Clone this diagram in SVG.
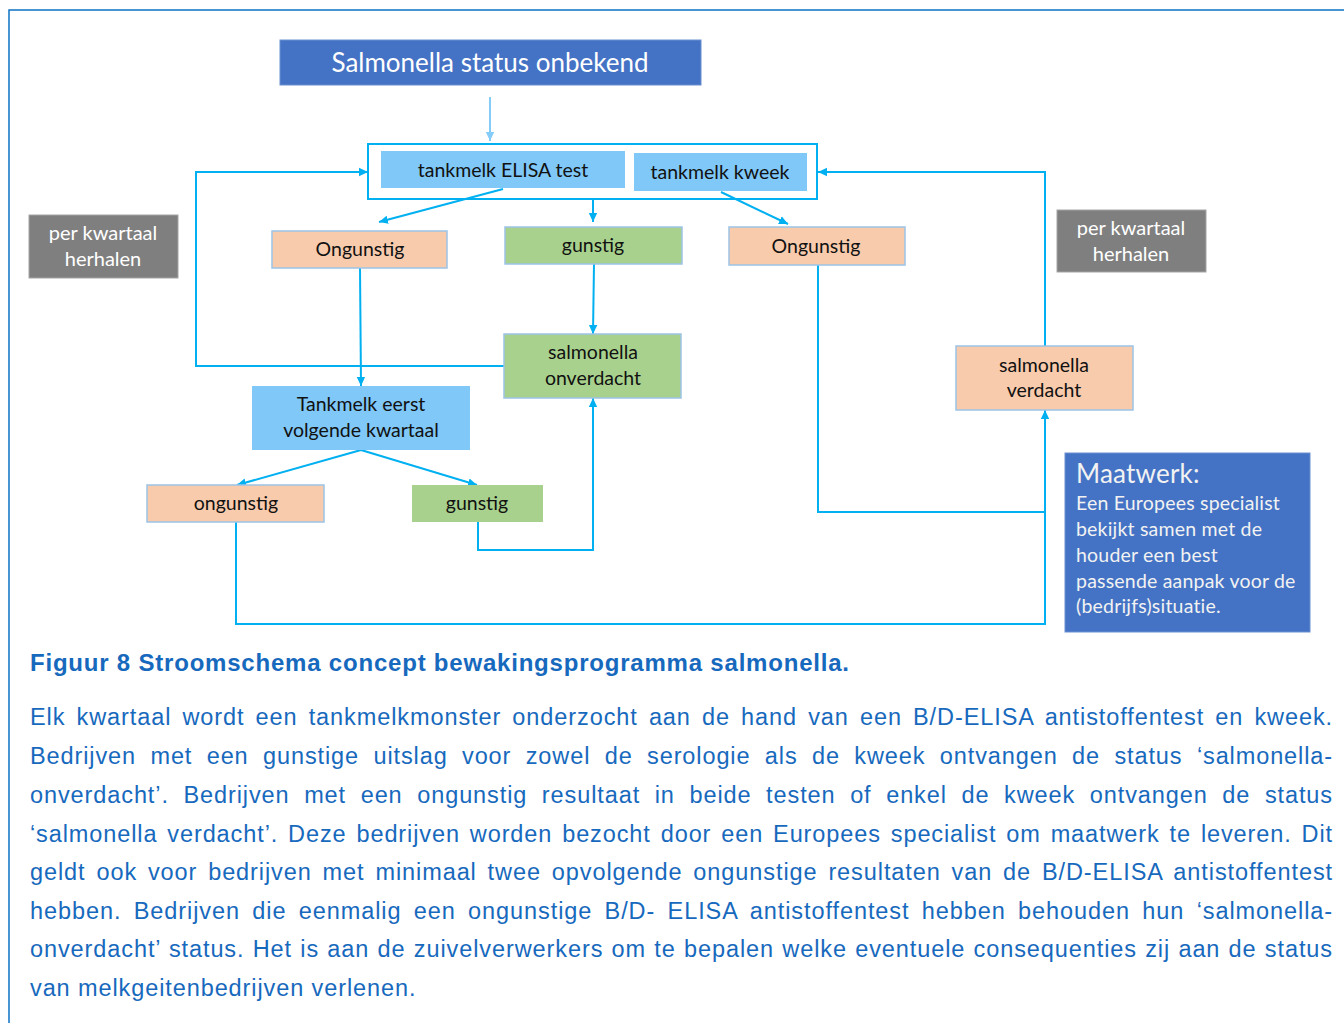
<svg xmlns="http://www.w3.org/2000/svg" width="1344" height="1023" viewBox="0 0 1344 1023">
<style>
.frame{fill:none;stroke:#0E72C4;stroke-width:1.5}
.con{fill:none;stroke:#00B0F0;stroke-width:2}
.lb{fill:#7FC8F8}
.pe{fill:#F8CBAD;stroke:#9DC3E6;stroke-width:1.5}
.gr{fill:#A9D18E;stroke:#9DC3E6;stroke-width:1.5}
.gy{fill:#7F7F7F;stroke:#A6A6A6;stroke-width:1}
.dk{fill:#4472C4;stroke:#6A8FD0;stroke-width:1}
.t{font-family:Lato,"Open Sans",sans-serif;font-size:19.5px;fill:#111;text-anchor:middle}
.tw{font-family:Lato,"Open Sans",sans-serif;font-size:20px;fill:#fff;text-anchor:middle}
.mw{font-family:Lato,"Open Sans",sans-serif;font-size:19.5px;fill:#F2F2F2;letter-spacing:0.2px}
.cap{font-family:"Liberation Sans",Arial,sans-serif;font-size:24px;font-weight:bold;fill:#1769BD}
.p{font-family:"Liberation Sans",Arial,sans-serif;font-size:23.5px;fill:#1769BD;letter-spacing:0.9px}
</style>
<defs>
<marker id="ah" markerUnits="userSpaceOnUse" markerWidth="10" markerHeight="10" refX="9" refY="5" orient="auto">
<path d="M0,0.8 L9,5 L0,9.2 Z" fill="#00B0F0"/>
</marker>
<marker id="ahl" markerUnits="userSpaceOnUse" markerWidth="10" markerHeight="10" refX="9" refY="5" orient="auto">
<path d="M0,0.8 L9,5 L0,9.2 Z" fill="#86CCF9"/>
</marker>
</defs>
<path class="frame" d="M9,1023 V10 H1344"/>

<g id="tests">
<rect x="368" y="144" width="449" height="55" fill="none" stroke="#00B0F0" stroke-width="2"/>
</g>

<g id="connectors">
<line x1="490" y1="97" x2="490" y2="141" stroke="#86CCF9" stroke-width="2" marker-end="url(#ahl)"/>
<polyline class="con" points="504,366 196,366 196,172 368,172" marker-end="url(#ah)"/>
<line class="con" x1="503" y1="189" x2="379" y2="222" marker-end="url(#ah)"/>
<line class="con" x1="593" y1="199" x2="593" y2="222" marker-end="url(#ah)"/>
<line class="con" x1="721" y1="192" x2="788" y2="224" marker-end="url(#ah)"/>
<line class="con" x1="594" y1="264" x2="593" y2="334" marker-end="url(#ah)"/>
<line class="con" x1="360" y1="268" x2="361" y2="386" marker-end="url(#ah)"/>
<line class="con" x1="361" y1="450" x2="237" y2="485" marker-end="url(#ah)"/>
<line class="con" x1="361" y1="450" x2="477" y2="485" marker-end="url(#ah)"/>
<polyline class="con" points="478,522 478,550 593,550 593,398" marker-end="url(#ah)"/>
<polyline class="con" points="236,522 236,624 1045,624 1045,410" marker-end="url(#ah)"/>
<polyline class="con" points="818,265 818,512 1045,512"/>
<polyline class="con" points="1045,346 1045,172 818,172" marker-end="url(#ah)"/>
</g>

<g id="title">
<rect class="dk" x="280" y="40" width="421" height="45"/>
<text class="tw" x="490" y="72" style="font-size:26px">Salmonella status onbekend</text>
</g>

<g id="elisa">
<rect class="lb" x="381" y="151" width="244" height="37"/>
<text class="t" x="503" y="177">tankmelk ELISA test</text>
</g>
<g id="kweek">
<rect class="lb" x="634" y="153" width="173" height="38"/>
<text class="t" x="720" y="179">tankmelk kweek</text>
</g>

<g id="ongunstig1">
<rect class="pe" x="272" y="231" width="175" height="37"/>
<text class="t" x="360" y="256">Ongunstig</text>
</g>
<g id="gunstig1">
<rect class="gr" x="505" y="227" width="177" height="37"/>
<text class="t" x="593" y="252">gunstig</text>
</g>
<g id="ongunstig2">
<rect class="pe" x="729" y="227" width="176" height="38"/>
<text class="t" x="816" y="253">Ongunstig</text>
</g>

<g id="onverdacht">
<rect class="gr" x="504" y="334" width="177" height="64"/>
<text class="t" x="593" y="359">salmonella</text>
<text class="t" x="593" y="385">onverdacht</text>
</g>

<g id="verdacht">
<rect class="pe" x="956" y="346" width="177" height="64"/>
<text class="t" x="1044" y="372">salmonella</text>
<text class="t" x="1044" y="397">verdacht</text>
</g>

<g id="tankmelk2">
<rect class="lb" x="252" y="386" width="218" height="64"/>
<text class="t" x="361" y="411">Tankmelk eerst</text>
<text class="t" x="361" y="437">volgende kwartaal</text>
</g>

<g id="ongunstig3">
<rect class="pe" x="147" y="485" width="177" height="37"/>
<text class="t" x="236" y="510">ongunstig</text>
</g>
<g id="gunstig2">
<rect x="412" y="485" width="131" height="37" fill="#A9D18E"/>
<text class="t" x="477" y="510">gunstig</text>
</g>

<g id="herhalen1">
<rect class="gy" x="29" y="215" width="149" height="63"/>
<text class="tw" x="103" y="240">per kwartaal</text>
<text class="tw" x="103" y="266">herhalen</text>
</g>
<g id="herhalen2">
<rect class="gy" x="1057" y="210" width="149" height="62"/>
<text class="tw" x="1131" y="235">per kwartaal</text>
<text class="tw" x="1131" y="261">herhalen</text>
</g>

<g id="maatwerk">
<rect class="dk" x="1065" y="453" width="245" height="179"/>
<text class="mw" x="1076" y="483" style="font-size:26px">Maatwerk:</text>
<text class="mw" x="1076" y="510">Een Europees specialist</text>
<text class="mw" x="1076" y="536">bekijkt samen met de</text>
<text class="mw" x="1076" y="562">houder een best</text>
<text class="mw" x="1076" y="588">passende aanpak voor de</text>
<text class="mw" x="1076" y="613">(bedrijfs)situatie.</text>
</g>

<text class="cap" x="30" y="671" textLength="819" lengthAdjust="spacing">Figuur 8 Stroomschema concept bewakingsprogramma salmonella.</text>

<g id="paragraph">
<text class="p" x="30" y="725" style="word-spacing:3.7px" textLength="1303" lengthAdjust="spacing">Elk kwartaal wordt een tankmelkmonster onderzocht aan de hand van een B/D-ELISA antistoffentest en kweek.</text>
<text class="p" x="30" y="764" style="word-spacing:7px" textLength="1303" lengthAdjust="spacing">Bedrijven met een gunstige uitslag voor zowel de serologie als de kweek ontvangen de status ‘salmonella-</text>
<text class="p" x="30" y="803" style="word-spacing:7.2px" textLength="1303" lengthAdjust="spacing">onverdacht’. Bedrijven met een ongunstig resultaat in beide testen of enkel de kweek ontvangen de status</text>
<text class="p" x="30" y="842" style="word-spacing:2.5px" textLength="1303" lengthAdjust="spacing">‘salmonella verdacht’. Deze bedrijven worden bezocht door een Europees specialist om maatwerk te leveren. Dit</text>
<text class="p" x="30" y="880" style="word-spacing:3.4px" textLength="1303" lengthAdjust="spacing">geldt ook voor bedrijven met minimaal twee opvolgende ongunstige resultaten van de B/D-ELISA antistoffentest</text>
<text class="p" x="30" y="919" style="word-spacing:4.9px" textLength="1303" lengthAdjust="spacing">hebben. Bedrijven die eenmalig een ongunstige B/D- ELISA antistoffentest hebben behouden hun ‘salmonella-</text>
<text class="p" x="30" y="957" style="word-spacing:0.85px" textLength="1303" lengthAdjust="spacing">onverdacht’ status. Het is aan de zuivelverwerkers om te bepalen welke eventuele consequenties zij aan de status</text>
<text class="p" x="30" y="996">van melkgeitenbedrijven verlenen.</text>
</g>
</svg>
